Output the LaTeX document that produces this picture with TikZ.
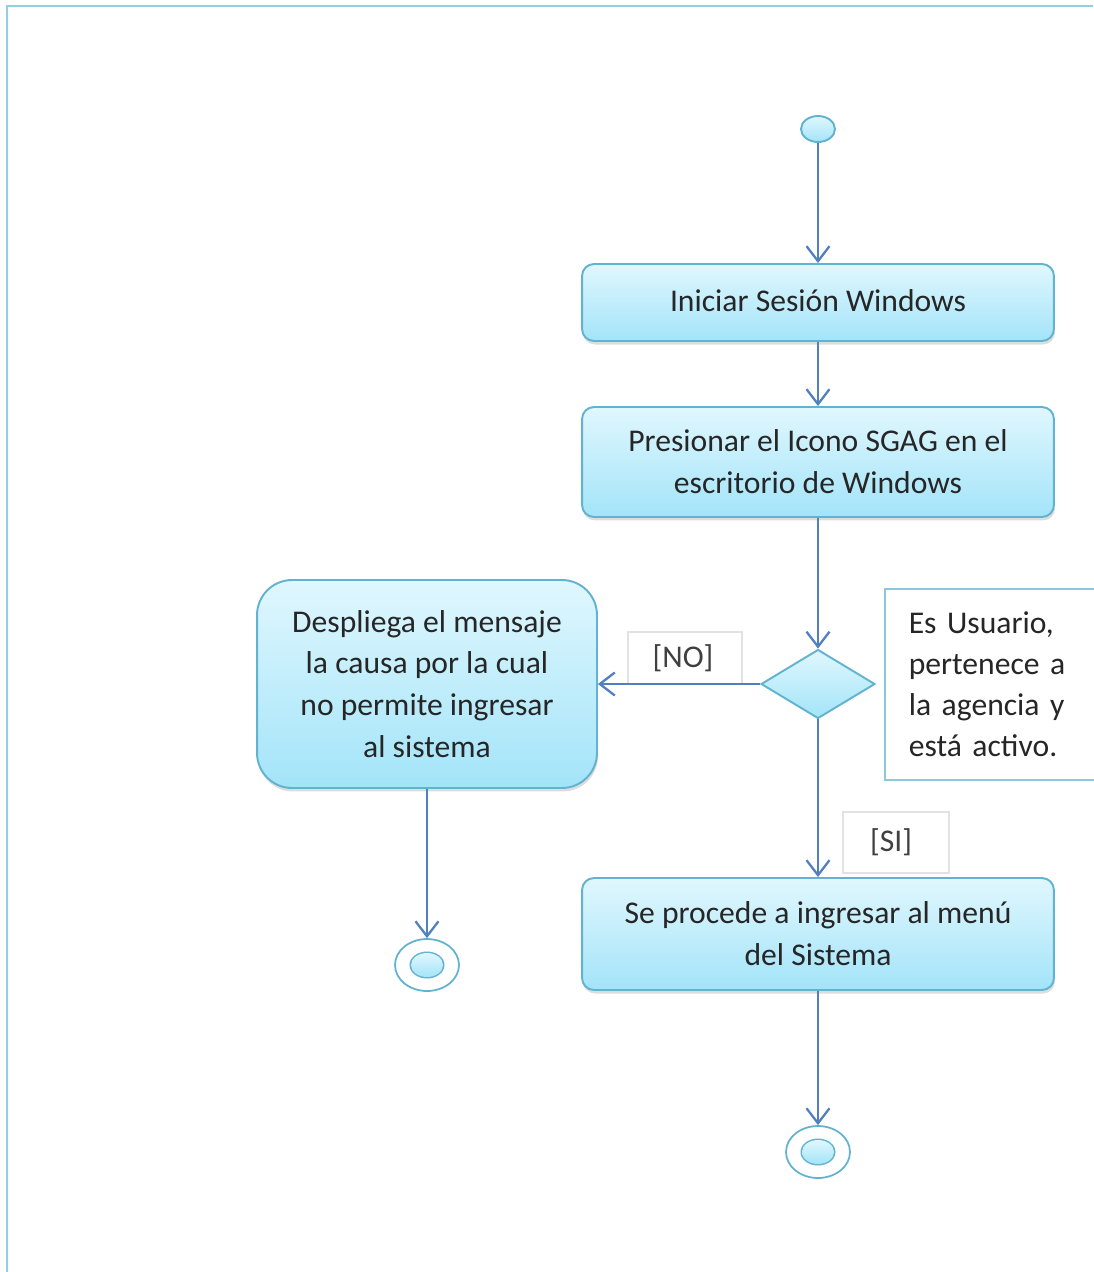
\documentclass[tikz,border=0pt]{standalone}
\usepackage{fontspec}
\setmainfont{Carlito}
\usetikzlibrary{arrows.meta,shapes.geometric,shadows}
\definecolor{framec}{HTML}{92CFDF}
\definecolor{edgec}{HTML}{62B3CF}
\definecolor{filltop}{HTML}{E0F7FE}
\definecolor{fillbot}{HTML}{A3E4F9}
\definecolor{flowc}{HTML}{527FC0}
\definecolor{txtc}{HTML}{262626}
\definecolor{notec}{HTML}{8CC8DA}
\definecolor{tagc}{HTML}{E2E2E2}
\tikzset{
  x=0.02cm, y=-0.02cm,
  every node/.style={font=\fontsize{18}{23.8}\selectfont, text=txtc},
  soft/.style={top color=filltop, bottom color=fillbot, draw=edgec, line width=1.1pt},
  act/.style={soft, rectangle, rounded corners=0.24cm, align=center, inner sep=0pt,
    drop shadow={shadow xshift=0.02cm, shadow yshift=-0.07cm, opacity=0.22, fill=black!60}},
  bigact/.style={act, rounded corners=0.7cm},
  choice/.style={soft, diamond, inner sep=0pt, minimum width=2.28cm, minimum height=1.38cm},
  startdot/.style={soft, ellipse, inner sep=0pt, minimum width=0.68cm, minimum height=0.52cm},
  enddot/.style={draw=edgec, line width=1pt, fill=white, ellipse, inner sep=0pt,
    minimum width=1.28cm, minimum height=1.04cm,
    path picture={\fill[edgec] (path picture bounding box.center) ellipse (0.35cm and 0.27cm);
      \shade[top color=filltop, bottom color=fillbot] (path picture bounding box.center) ellipse (0.32cm and 0.24cm);}},
  notebox/.style={draw=notec, line width=0.9pt, fill=white, rectangle, align=left, anchor=north west,
    font=\fontsize{18}{23.2}\selectfont, text width=3.9cm, inner xsep=0.48cm, inner ysep=0pt,
    minimum height=3.82cm},
  tag/.style={draw=tagc, line width=0.6pt, fill=white, rectangle, inner sep=0pt, text=black!75},
  flow/.style={draw=flowc, line width=1.3pt, -{Straight Barb[length=0.3cm, width=0.46cm, line width=1.3pt]}}
}
\begin{document}
\begin{tikzpicture}
  \useasboundingbox (0,0) rectangle (1093,1272);
  % page frame
  \draw[framec, line width=1.6pt] (7,1272) -- (7,6) -- (1093,6);

  % activity nodes
  \node[startdot] (start) at (818,129) {};
  \node[act, minimum width=9.44cm, minimum height=1.54cm] (b1) at (818,302.5) {\raisebox{0.09cm}{Iniciar Sesión Windows}};
  \node[act, minimum width=9.44cm, minimum height=2.20cm] (b2) at (818,462) {Presionar el Icono SGAG en el\\escritorio de Windows};
  \node[choice] (dec) at (818,684) {};
  \node[notebox] (note) at (884,588) {Es Usuario,\\pertenece a\\la agencia y\\está activo.};
  \node[bigact, minimum width=6.8cm, minimum height=4.16cm] (left) at (427,684) {Despliega el mensaje\\la causa por la cual\\no permite ingresar\\al sistema};
  \node[act, minimum width=9.44cm, minimum height=2.24cm] (b3) at (818,934) {Se procede a ingresar al menú\\del Sistema};
  \node[enddot] (endL) at (427,965) {};
  \node[enddot] (endR) at (818,1152) {};

  % guard labels
  \node[tag, minimum width=2.28cm, minimum height=1.04cm] (no) at (685,658) {\hspace*{-0.08cm}[NO]};
  \node[tag, minimum width=2.12cm, minimum height=1.22cm] (si) at (896,842.5) {[SI]\hspace*{0.2cm}};

  % control flow
  \draw[flow] (start) -- (b1);
  \draw[flow] (b1) -- (b2);
  \draw[flow] (b2) -- (dec);
  \draw[flow] (dec) -- (left);
  \draw[flow] (dec) -- (b3);
  \draw[flow] (left) -- (endL);
  \draw[flow] (b3) -- (endR);
\end{tikzpicture}
\end{document}
